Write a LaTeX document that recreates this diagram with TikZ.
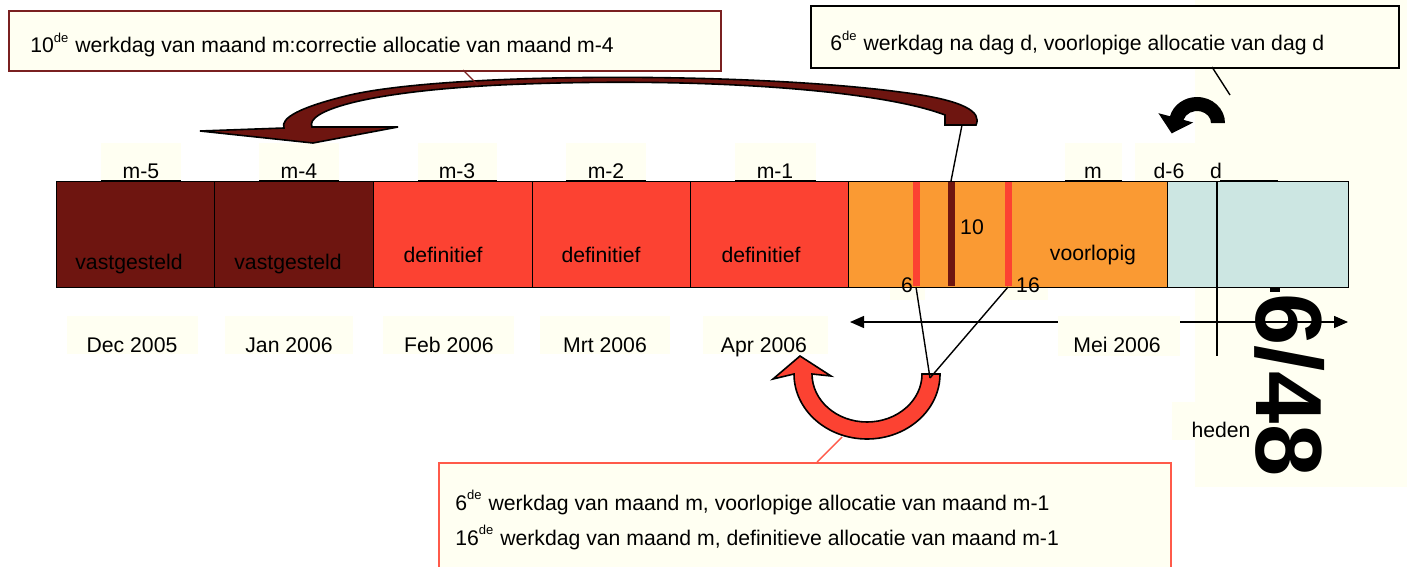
\documentclass[tikz,border=0pt]{standalone}
\usepackage{fontspec}
\setmainfont{Liberation Sans}
\usetikzlibrary{arrows.meta}
\definecolor{cbrown}{RGB}{110,21,16}
\definecolor{cred}{RGB}{252,66,50}
\definecolor{corange}{RGB}{250,154,51}
\definecolor{ccyan}{RGB}{204,230,226}
\definecolor{cream}{RGB}{255,255,242}
\definecolor{cbord}{RGB}{122,32,32}
\definecolor{credline}{RGB}{255,90,74}
\begin{document}
\begin{tikzpicture}[x=0.5pt,y=-0.5pt,
  lbl/.style={font=\fontsize{10.6}{12}\selectfont, inner sep=0pt, anchor=base},
  lblw/.style={lbl, anchor=base west},
  cell/.style={draw=black, line width=0.6pt, anchor=north west, minimum height=53pt, inner sep=0pt},
  callout/.style={fill=cream, line width=0.8pt, anchor=north west, inner sep=0pt},
  pointer/.style={line width=0.7pt},
  tagline/.style={line width=1.1pt, black}]
\useasboundingbox (0,0) rectangle (1407,567);
\clip (0,0) rectangle (1407,567);
\fill[white] (0,0) rectangle (1407,567);
% cream background on the right
\fill[cream] (1195,0) rectangle (1407,487);

% callouts
\node[callout, draw=cbord, minimum width=356pt, minimum height=30pt] (call1) at (8,10) {};
\node[lblw] (t1) at (30,53) {10\raisebox{1.2pt}{\textsuperscript{\fontsize{6.5}{7}\selectfont de}} werkdag van maand m:correctie allocatie van maand m-4};
\node[callout, draw=black, minimum width=294pt, minimum height=31pt] (call2) at (810,5) {};
\node[lblw] (t2) at (830,51) {6\raisebox{1.2pt}{\textsuperscript{\fontsize{6.5}{7}\selectfont de}} werkdag na dag d, voorlopige allocatie van dag d};
\node[callout, draw=credline, minimum width=366pt, minimum height=70pt] (call3) at (438,462) {};
\node[lblw] (t3) at (455,510) {6\raisebox{1.2pt}{\textsuperscript{\fontsize{6.5}{7}\selectfont de}} werkdag van maand m, voorlopige allocatie van maand m-1};
\node[lblw] (t4) at (455,545) {16\raisebox{1.2pt}{\textsuperscript{\fontsize{6.5}{7}\selectfont de}} werkdag van maand m, definitieve allocatie van maand m-1};

% labels above the bar
\foreach \a/\b in {101/181,259/339,418/497,566/646,735/816,1065/1122,1220/1278}{
  \fill[cream] (\a,143) rectangle (\b,181);
  \draw[tagline] (\a,181) -- (\b,181);
}
\fill[cream] (1135,143) rectangle (1195,181);
\draw[line width=0.5pt, gray] (1190,181) -- (1217,181);
\node[lbl] (lm5) at (141,178) {m-5};
\node[lbl] (lm4) at (299,178) {m-4};
\node[lbl] (lm3) at (457,178) {m-3};
\node[lbl] (lm2) at (606,178) {m-2};
\node[lbl] (lm1) at (775,178) {m-1};
\node[lbl] (lm) at (1093,178) {m};
\node[lbl] (ld6) at (1169,178) {d-6};
\node[lbl] (ld) at (1216,178) {d};

% labels below the bar
\foreach \a/\b in {67/198,225/353,383/514,540/670,703/828}{
  \fill[cream] (\a,316) rectangle (\b,354);
}
% double arrow
\coordinate (al) at (850,322);
\coordinate (ar) at (1348,322);
\draw[line width=0.7pt, {Triangle[length=7pt,width=6pt]}-{Triangle[length=7pt,width=6pt]}] (al) -- (ar);
\fill[cream] (1058,316) rectangle (1180,356);
\node[lbl] (dec) at (132,352) {Dec 2005};
\node[lbl] (jan) at (289,352) {Jan 2006};
\node[lbl] (feb) at (449,352) {Feb 2006};
\node[lbl] (mrt) at (605,352) {Mrt 2006};
\node[lbl] (apr) at (764,352) {Apr 2006};
\node[lbl] (mei) at (1117,352) {Mei 2006};

% big rotated page number
\node[rotate=-90, inner sep=0pt, font=\fontsize{47}{47}\selectfont\bfseries] (pg) at (1290,385) {6/48};
\fill[black] (1270,287) rectangle (1280,292);

% heden
\fill[cream] (1172,402) rectangle (1250,440);
\node[lbl] (heden) at (1221,437) {heden};

% small cream patches under 6 and 16
\fill[cream] (890,287) rectangle (925,300);
\fill[cream] (1003,287) rectangle (1048,300);

% the bar
\node[cell, fill=cbrown, minimum width=79pt] (c1) at (56,181) {};
\node[cell, fill=cbrown, minimum width=79.5pt] (c2) at (214,181) {};
\node[cell, fill=cred, minimum width=79.5pt] (c3) at (373,181) {};
\node[cell, fill=cred, minimum width=79pt] (c4) at (532,181) {};
\node[cell, fill=cred, minimum width=79pt] (c5) at (690,181) {};
\node[cell, fill=corange, minimum width=159.5pt] (c6) at (848,181) {};
\node[cell, fill=ccyan, minimum width=90.5pt] (c7) at (1167,181) {};
\fill[cred] (913,182) rectangle (920,286);
\fill[cbrown] (948,182) rectangle (955,286);
\fill[cred] (1005,182) rectangle (1012,286);

\node[lbl] (v1) at (129,269) {vastgesteld};
\node[lbl] (v2) at (288,269) {vastgesteld};
\node[lbl] (d1) at (443,262) {definitief};
\node[lbl] (d2) at (601,262) {definitief};
\node[lbl] (d3) at (761,262) {definitief};
\node[lbl] (vl) at (1093,260) {voorlopig};
\node[lbl] (n10) at (972,234) {10};
\node[lbl] (n6) at (907,292) {6};
\node[lbl] (n16) at (1028,292) {16};

% d line
\coordinate (dtop) at (1217,181);
\coordinate (dbot) at (1217,356);
\draw[line width=1.2pt] (dtop) -- (dbot);

% brown curved arrow
\fill[cbrown, draw=black, line width=0.8pt]
  (945,125) -- (976,125) .. controls (982,112) and (965,100) .. (900,92)
  .. controls (750,72) and (450,72) .. (350,95)
  .. controls (300,107) and (280,118) .. (284,128)
  -- (200,131) -- (313,143) -- (398,127) -- (312,127)
  .. controls (305,112) and (360,92) .. (500,85)
  .. controls (700,76) and (880,90) .. (945,115) -- cycle;

% black small curved arrow
\fill[black] (1225,123) arc[start angle=0,end angle=-165,x radius=28,y radius=26]
  -- (1158.4,113.2) -- (1171.7,133.4) -- (1193.2,122.5) -- (1183.5,119.9)
  arc[start angle=-165,end angle=0,x radius=14,y radius=12] -- cycle;

% red U-turn arrow
\fill[cred, draw=black, line width=0.8pt] (940,374) arc[start angle=0,end angle=180,x radius=73,y radius=65]
  -- (773,379) -- (800,356) -- (831,376) -- (812,374)
  arc[start angle=180,end angle=0,x radius=55,y radius=48] -- cycle;

% pointer lines
\coordinate (p1a) at (463,70);
\coordinate (p1b) at (478,85);
\draw[pointer, cbord] (p1a) -- (p1b);
\coordinate (tail) at (962,125);
\coordinate (l10) at (951,181);
\draw[pointer] (tail) -- (l10);
\coordinate (p2a) at (1212,67);
\coordinate (p2b) at (1230,95);
\draw[pointer] (p2a) -- (p2b);
\coordinate (l6) at (916,287);
\coordinate (l16) at (1008,287);
\coordinate (uend) at (930,378);
\draw[pointer] (l6) -- (uend);
\draw[pointer] (l16) -- (uend);
\coordinate (ubot) at (842,437);
\coordinate (c3top) at (817,462);
\draw[pointer, credline] (ubot) -- (c3top);
\end{tikzpicture}
\end{document}
